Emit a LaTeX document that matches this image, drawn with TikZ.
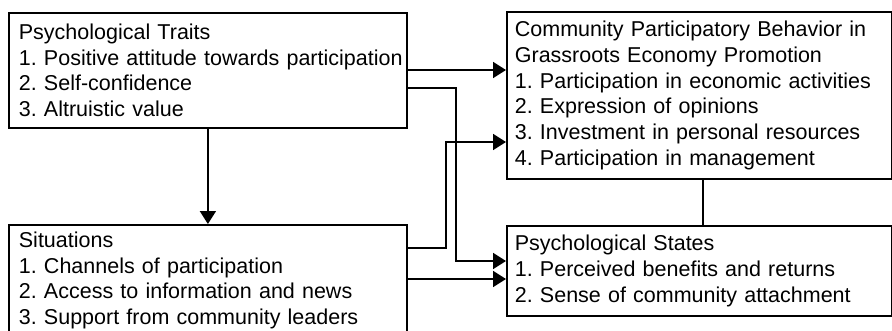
\documentclass[tikz,border=0pt]{standalone}
\usepackage{fontspec}
\setmainfont{Liberation Sans}
\usetikzlibrary{arrows.meta,calc}
\tikzset{
  box/.style={draw, line width=1.8pt, anchor=north west, align=left,
    inner ysep=0pt, font=\fontsize{21.5}{25.7}\selectfont\frenchspacing},
  conn/.style={line width=1.8pt},
  arr/.style={conn, -{Triangle[length=13pt,width=16pt]}}
}
\begin{document}
\begin{tikzpicture}[x=1pt,y=-1pt]
\useasboundingbox (0,0) rectangle (892,330);
\clip (0,0) rectangle (892,330);
\node[box, inner xsep=10pt, text width=378pt, minimum height=115pt] (A) at (8,12)
  {Psychological Traits\\\mbox{1. Positive attitude towards participation}\\2. Self-confidence\\3. Altruistic value};
\node[box, inner xsep=8pt, text width=369pt, minimum height=167pt] (B) at (506,11)
  {Community Participatory Behavior in\\Grassroots Economy Promotion\\1. Participation in economic activities\\2. Expression of opinions\\3. Investment in personal resources\\4. Participation in management};
\node[box, inner xsep=10pt, text width=378pt, minimum height=111pt] (C) at (8,224)
  {Situations\\1. Channels of participation\\2. Access to information and news\\3. Support from community leaders};
\node[box, inner xsep=8pt, text width=369pt, minimum height=90pt] (D) at (506,225)
  {Psychological States\\1. Perceived benefits and returns\\2. Sense of community attachment};
\draw[arr] (A.east |- 0,70) -- (B.west |- 0,70);
\draw[arr] (A.east |- 0,88) -| (456,261) -- (D.west |- 0,261);
\draw[arr] (C.east |- 0,248) -| (446,142) -- (B.west |- 0,142);
\draw[arr] (C.east |- 0,279) -- (D.west |- 0,279);
\draw[arr] (A.south) -- (C.north);
\draw[conn] (B.south -| 703,0) -- (D.north -| 703,0);
\end{tikzpicture}
\end{document}
